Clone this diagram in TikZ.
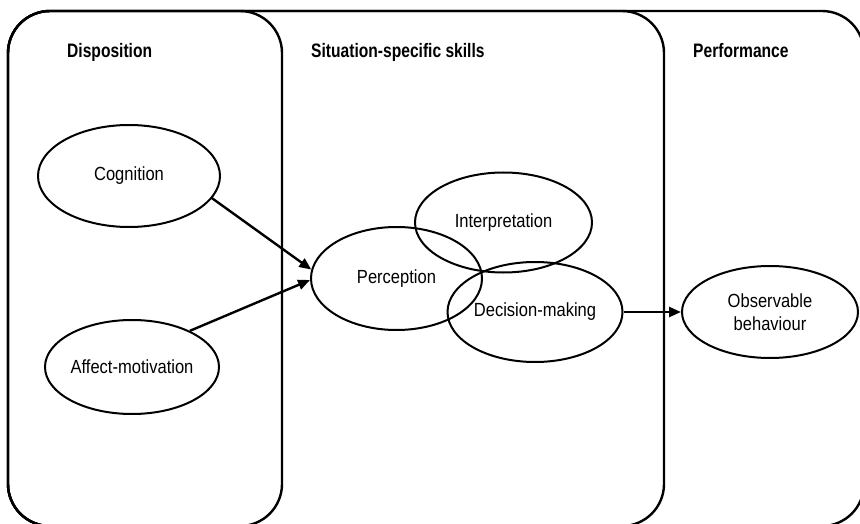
\documentclass[tikz,border=0pt]{standalone}
\usepackage{fontspec}
\newfontfamily\nodefont[FakeStretch=0.87]{Liberation Sans}
\newfontfamily\titlefont[FakeStretch=0.8]{Liberation Sans}
\usetikzlibrary{shapes.geometric,arrows.meta}
\begin{document}
\begin{tikzpicture}[x=1pt,y=-1pt,
  panel/.style={draw=black,line width=2.4pt,rounded corners=42pt},
  oval/.style={draw=black,ellipse,line width=2pt,inner sep=0pt,align=center,
    font=\nodefont\fontsize{19}{23}\selectfont},
  ttl/.style={anchor=base west,inner sep=0pt,font=\titlefont\bfseries\fontsize{19.5}{22}\selectfont},
  link/.style={line width=2.4pt,-{Triangle[length=12pt,width=10pt]}}]
\useasboundingbox (0,0) rectangle (860,524);
\clip (0,0) rectangle (860,524);
% panels
\draw[panel] (8,11) rectangle (864,526);
\draw[panel] (8,11) rectangle (664,526);
\draw[panel] (8,11) rectangle (282,526);
% titles
\node[ttl] (t1) at (67,58) {Disposition};
\node[ttl] (t2) at (311,58) {Situation-specific skills};
\node[ttl] (t3) at (693,58) {Performance};
% ellipses
\node[oval,minimum width=182pt,minimum height=102pt] (cog) at (129,176) {Cognition};
\node[oval,minimum width=174pt,minimum height=94pt] (aff) at (132,367) {Affect-motivation};
\node[oval,minimum width=171pt,minimum height=103pt] (perc) at (396.5,278.5) {Perception};
\node[oval,minimum width=177pt,minimum height=100pt] (int) at (503.5,222.5) {Interpretation};
\node[oval,minimum width=175pt,minimum height=100pt] (dec) at (535,312) {Decision-making};
\node[oval,minimum width=176pt,minimum height=92pt] (obs) at (770,312) {Observable\\behaviour};
% connectors
\draw[link] (cog.-15) -- (perc.174);
\draw[link] (aff.32) -- (perc.181);
\draw[link] (dec.east) -- (obs.west);
\end{tikzpicture}
\end{document}
